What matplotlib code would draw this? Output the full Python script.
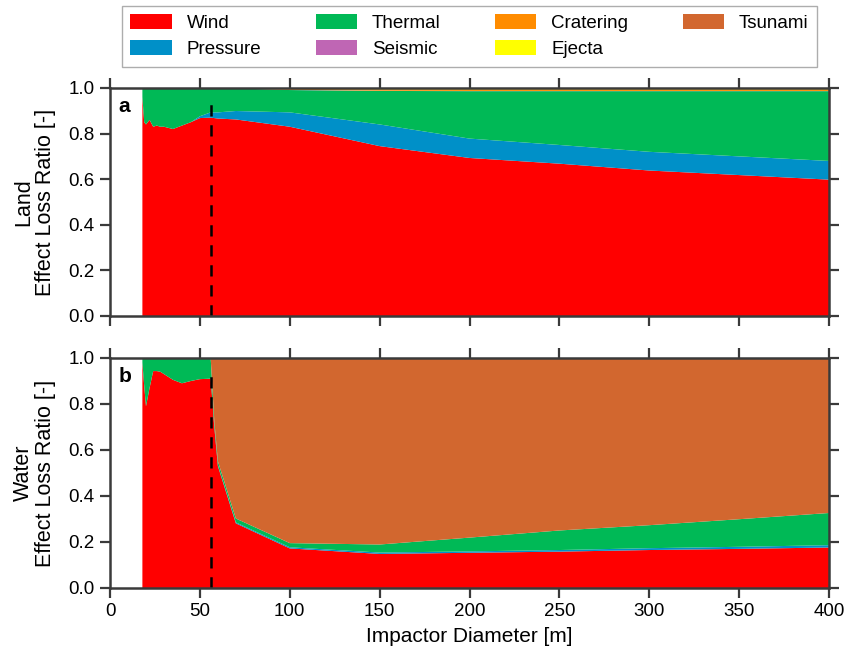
import matplotlib
matplotlib.use("Agg")
import matplotlib.pyplot as plt
from matplotlib.patches import Patch

plt.rcParams['font.family'] = ['Liberation Sans', 'DejaVu Sans']

# Impactor diameter [m]
diameter = [18, 19, 20, 22, 24, 26, 28, 30, 35, 40, 45, 50, 56, 58, 60, 70,
            100, 150, 200, 250, 300, 350, 400]

# Panel a: Land
land_wind = [0.96, 0.85, 0.84, 0.86, 0.83, 0.835, 0.83, 0.83, 0.82, 0.835, 0.85,
             0.868, 0.87, 0.868, 0.866, 0.862, 0.83, 0.745, 0.693, 0.668, 0.638,
             0.618, 0.598]
land_pressure = [0, 0, 0, 0, 0, 0, 0, 0, 0, 0, 0, 0.008, 0.023, 0.025, 0.027,
                 0.037, 0.063, 0.095, 0.085, 0.082, 0.082, 0.082, 0.082]
land_thermal = [0.04, 0.15, 0.16, 0.14, 0.17, 0.165, 0.17, 0.17, 0.18, 0.165, 0.15,
                0.124, 0.107, 0.107, 0.107, 0.099, 0.098, 0.147, 0.208, 0.236,
                0.266, 0.286, 0.306]
land_seismic = [0, 0, 0, 0, 0, 0, 0, 0, 0, 0, 0, 0, 0, 0, 0, 0, 0.001, 0.001,
                0.001, 0.001, 0.001, 0.001, 0.001]
land_cratering = [0, 0, 0, 0, 0, 0, 0, 0, 0, 0, 0, 0, 0, 0, 0, 0.001, 0.004, 0.006,
                  0.007, 0.007, 0.007, 0.007, 0.007]
land_ejecta = [0, 0, 0, 0, 0, 0, 0, 0, 0, 0, 0, 0, 0, 0, 0, 0.001, 0.004, 0.006,
               0.006, 0.006, 0.006, 0.006, 0.006]
land_tsunami = [0] * 23

# Panel b: Water
water_wind = [0.98, 0.88, 0.79, 0.87, 0.943, 0.943, 0.94, 0.93, 0.905, 0.89, 0.9,
              0.908, 0.91, 0.70, 0.53, 0.281, 0.172, 0.148, 0.153, 0.158, 0.165,
              0.17, 0.176]
water_pressure = [0, 0, 0, 0, 0, 0, 0, 0, 0, 0, 0, 0, 0, 0.002, 0.003, 0.004,
                  0.005, 0.006, 0.006, 0.007, 0.008, 0.009, 0.01]
water_thermal = [0.02, 0.12, 0.21, 0.13, 0.057, 0.057, 0.06, 0.07, 0.095, 0.11,
                 0.10, 0.092, 0.09, 0.025, 0.018, 0.017, 0.018, 0.035, 0.06,
                 0.085, 0.10, 0.12, 0.14]
water_seismic = [0] * 23
water_cratering = [0] * 23
water_ejecta = [0] * 23
water_tsunami = [0, 0, 0, 0, 0, 0, 0, 0, 0, 0, 0, 0, 0, 0.273, 0.449, 0.698,
                 0.805, 0.811, 0.781, 0.75, 0.727, 0.701, 0.674]

labels = ['Wind', 'Pressure', 'Thermal', 'Seismic', 'Cratering', 'Ejecta', 'Tsunami']
colors = ['#FF0000', '#0090C8', '#00B956', '#BF66B4', '#FF8C00', '#FFFF00', '#D2672F']

xticks = [0, 50, 100, 150, 200, 250, 300, 350, 400]
yticks = [0.0, 0.2, 0.4, 0.6, 0.8, 1.0]
threshold = 56

fig = plt.figure(figsize=(8.51, 6.56), dpi=100)
ax_a = fig.add_axes([0.1293, 0.5183, 0.8449, 0.3476])
ax_b = fig.add_axes([0.1293, 0.1037, 0.8449, 0.3506])

panels = [
    (ax_a, 'a', 'Land\nEffect Loss Ratio [-]',
     [land_wind, land_pressure, land_thermal, land_seismic, land_cratering,
      land_ejecta, land_tsunami]),
    (ax_b, 'b', 'Water\nEffect Loss Ratio [-]',
     [water_wind, water_pressure, water_thermal, water_seismic, water_cratering,
      water_ejecta, water_tsunami]),
]

spine_col = '#3a3a3a'
for ax, letter, ylab, series in panels:
    ax.stackplot(diameter, *series, colors=colors, linewidth=0, antialiased=True)
    ax.vlines(threshold, 0, 0.955, colors='black', linestyles=(0, (4.5, 3.5)),
              linewidth=1.8, zorder=5)
    ax.set_xlim(0, 400)
    ax.set_ylim(0, 1.0)
    ax.set_xticks(xticks)
    ax.set_yticks(yticks)
    ax.set_yticklabels([f'{v:.1f}' for v in yticks])
    ax.tick_params(direction='out', length=7, width=1.6, color=spine_col,
                   top=True, right=True, labelsize=13.5, pad=4)
    for s in ax.spines.values():
        s.set_color(spine_col)
        s.set_linewidth(1.8)
        s.set_zorder(6)
    ax.set_ylabel(ylab, fontsize=15.5, linespacing=1.05, labelpad=9)
    ax.text(0.012, 0.962, letter, transform=ax.transAxes, fontsize=15,
            fontweight='bold', va='top', ha='left')

ax_a.tick_params(labelbottom=False)
ax_b.set_xlabel('Impactor Diameter [m]', fontsize=15, labelpad=5)

handles = [Patch(facecolor=c, edgecolor='none', label=l) for c, l in zip(colors, labels)]
leg = fig.legend(handles=handles, loc='upper center', bbox_to_anchor=(0.5517, 0.991),
                 ncol=4, fontsize=13.5, frameon=True, fancybox=False,
                 edgecolor='#999999', handlelength=2.2, handleheight=0.8,
                 handletextpad=0.8, columnspacing=2.9, labelspacing=0.45,
                 borderpad=0.45, borderaxespad=0)
leg.get_frame().set_linewidth(1.0)

fig.savefig('out.png', dpi=100)
